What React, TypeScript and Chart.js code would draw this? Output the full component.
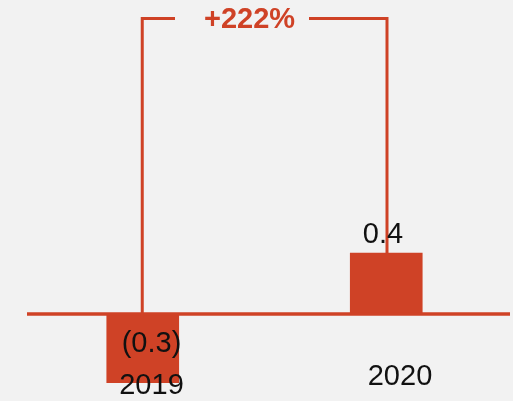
import React, { useEffect, useRef } from "react";
import { Chart, registerables } from "chart.js";

Chart.register(...registerables);

const categories = ["2019", "2020"];
const barValues = [-0.45, 0.4];
const valueLabels = ["(0.3)", "0.4"];
const changeLabel = "+222%";

const RED = "#cf4226";
const BG = "#f2f2f2";
const FONT = '"Liberation Sans", Arial, Helvetica, sans-serif';

export default function App() {
  const ref = useRef<HTMLCanvasElement>(null);

  useEffect(() => {
    if (!ref.current) return;
    const overlay = {
      id: "overlay",
      afterDatasetsDraw(chart: any) {
        const ctx = chart.ctx as CanvasRenderingContext2D;
        const xs = chart.scales.x;
        const ys = chart.scales.y;
        const x0 = xs.getPixelForValue(0);
        const x1 = xs.getPixelForValue(1);
        const zero = ys.getPixelForValue(0);
        const top1 = ys.getPixelForValue(barValues[1]);
        ctx.save();
        // zero line
        ctx.strokeStyle = RED;
        ctx.lineWidth = 3.5;
        ctx.beginPath();
        ctx.moveTo(27, zero);
        ctx.lineTo(510, zero);
        ctx.stroke();
        // bracket
        const by = 18.5;
        ctx.lineWidth = 3;
        ctx.lineJoin = "miter";
        ctx.lineCap = "butt";
        ctx.beginPath();
        ctx.moveTo(x0 - 0.5, zero + 4);
        ctx.lineTo(x0 - 0.5, by);
        ctx.lineTo(175, by);
        ctx.moveTo(309, by);
        ctx.lineTo(x1 + 0.75, by);
        ctx.lineTo(x1 + 0.75, top1);
        ctx.stroke();
        // change label
        ctx.textAlign = "center";
        ctx.textBaseline = "alphabetic";
        ctx.fillStyle = RED;
        ctx.font = `bold 29px ${FONT}`;
        ctx.fillText(changeLabel, 249.5, 28);
        // value labels
        ctx.fillStyle = "#111111";
        ctx.font = `29px ${FONT}`;
        ctx.fillText(valueLabels[0], x0 + 8.75, zero + 38);
        ctx.fillText(valueLabels[1], x1 - 3.25, top1 - 10);
        // category labels
        ctx.fillText(categories[0], x0 + 8.75, zero + 80);
        ctx.fillText(categories[1], x1 + 13.75, zero + 71);
        ctx.restore();
      },
    };

    const chart = new Chart(ref.current, {
      type: "bar",
      data: {
        labels: categories,
        datasets: [
          {
            data: barValues,
            backgroundColor: RED,
            borderWidth: 0,
            barThickness: 72,
          },
        ],
      },
      options: {
        animation: false,
        responsive: false,
        layout: { padding: { left: 21, right: 5, top: 0, bottom: 0 } },
        plugins: { legend: { display: false }, tooltip: { enabled: false } },
        scales: {
          x: { display: false, offset: true },
          y: { display: false, min: -0.5705, max: 2.059 },
        },
      },
      plugins: [overlay],
    });
    return () => chart.destroy();
  }, []);

  return (
    <div
      style={{
        position: "fixed",
        left: 0,
        top: 0,
        width: 513,
        height: 401,
        background: BG,
      }}
    >
      <canvas ref={ref} width={513} height={401} />
    </div>
  );
}
